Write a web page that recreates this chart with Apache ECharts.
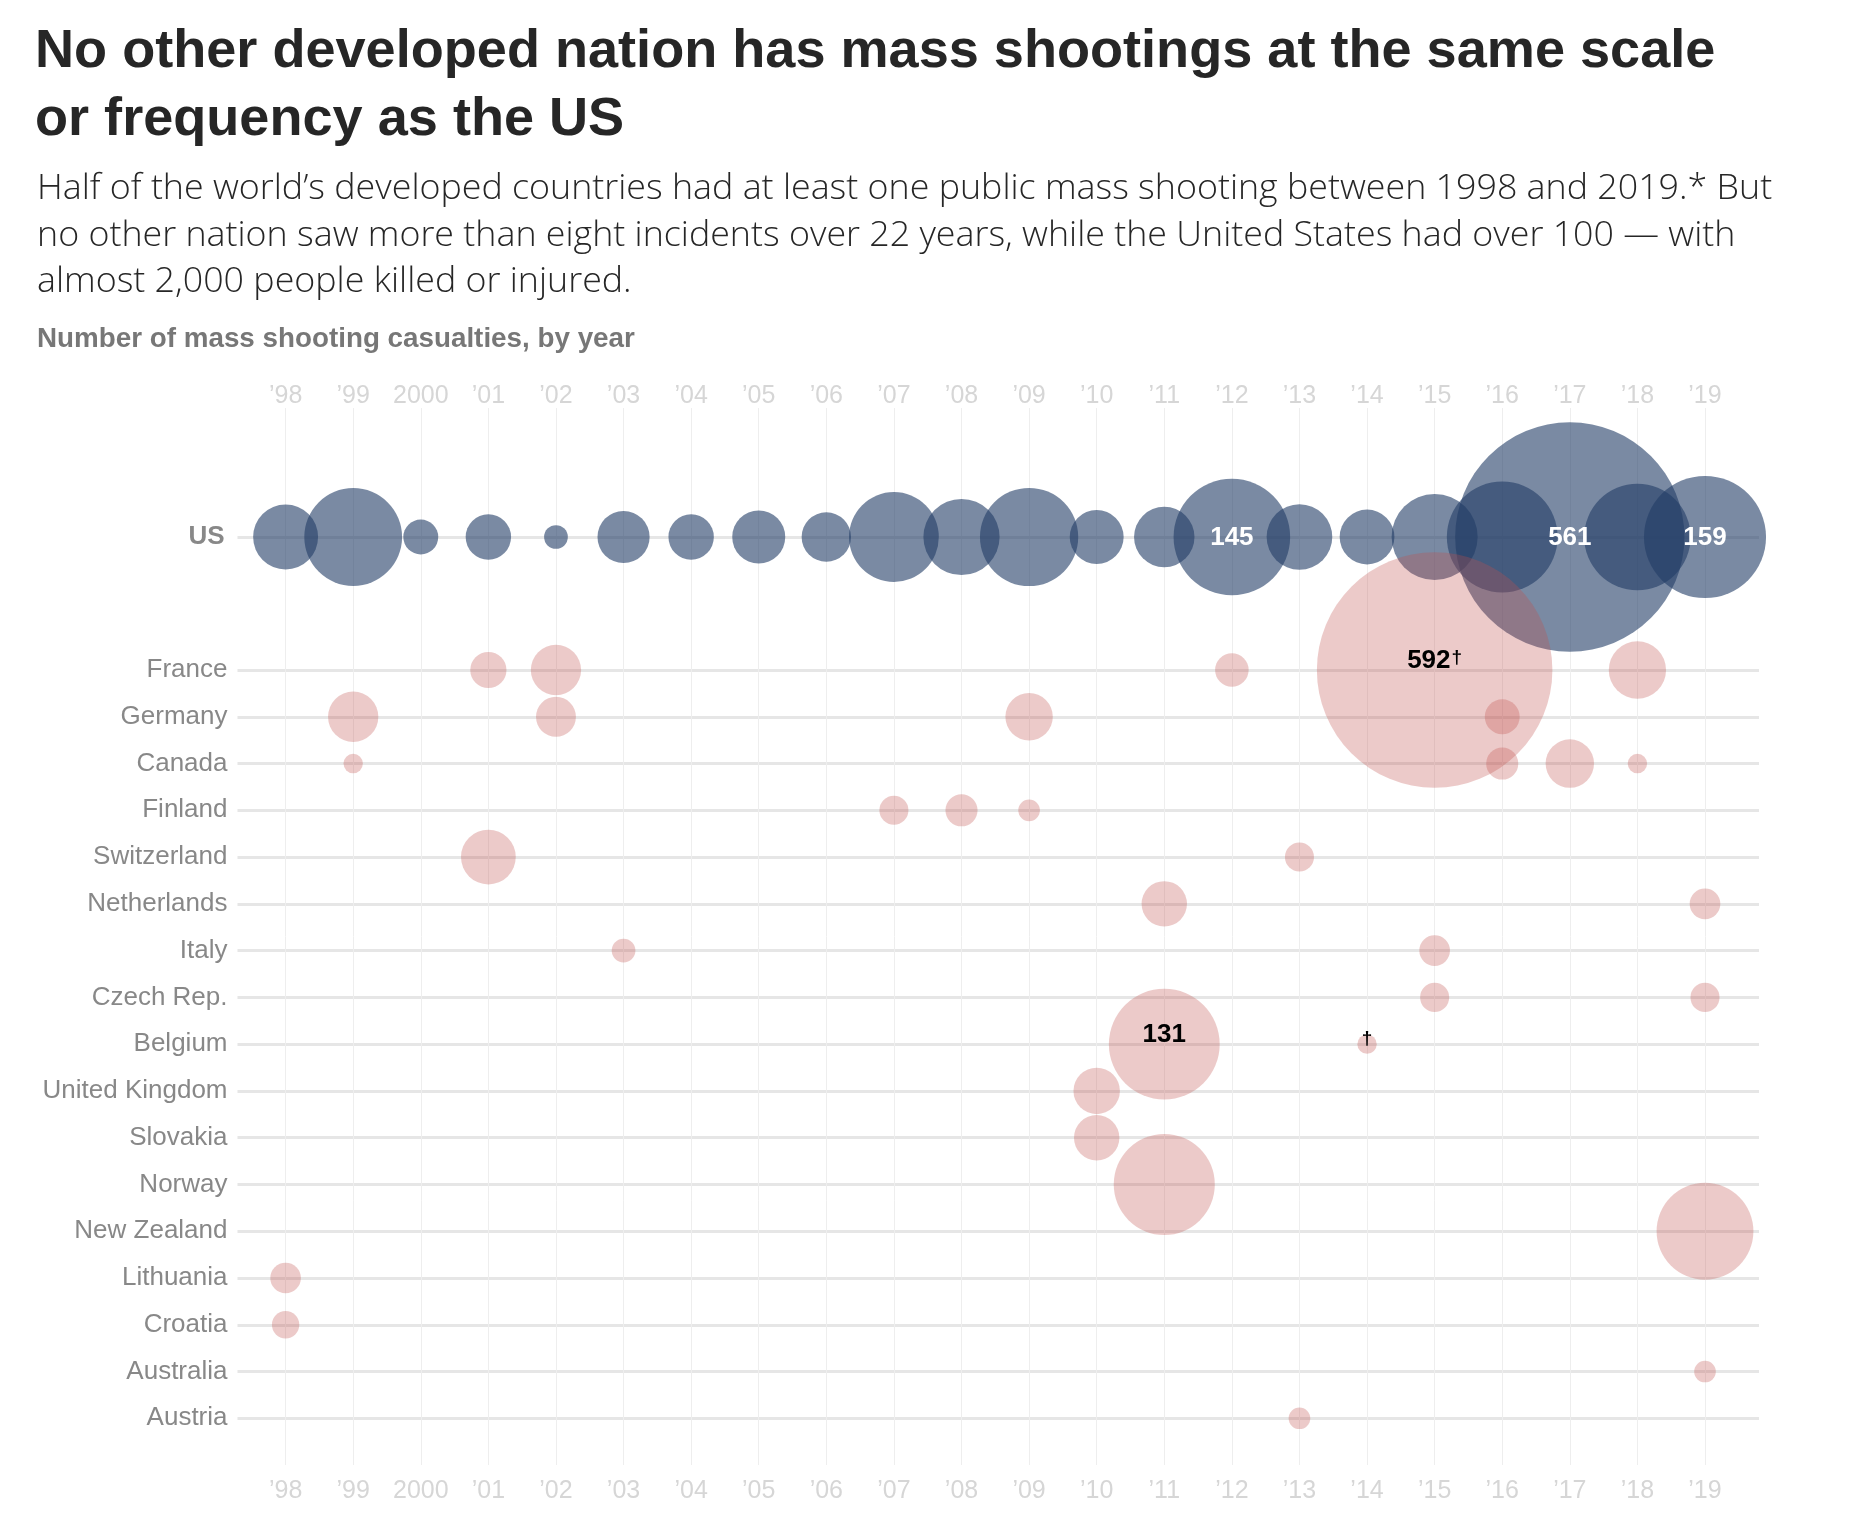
<!DOCTYPE html>
<html>
<head>
<meta charset="utf-8">
<script src="https://cdn.jsdelivr.net/npm/echarts@6/dist/echarts.min.js"></script>
<style>
html,body{margin:0;padding:0;background:#fff}
#chart{width:1862px;height:1526px}
</style>
</head>
<body>
<div id="chart"></div>
<script>
// ---------- DATA ----------
const years = [1998,1999,2000,2001,2002,2003,2004,2005,2006,2007,2008,2009,2010,2011,2012,2013,2014,2015,2016,2017,2018,2019];
const yearTickLabels = ['\u201998','\u201999','2000','\u201901','\u201902','\u201903','\u201904','\u201905','\u201906','\u201907','\u201908','\u201909','\u201910','\u201911','\u201912','\u201913','\u201914','\u201915','\u201916','\u201917','\u201918','\u201919'];
const usCasualties = [45,102,13,22,6,29,22,30,26,86,62,103,31,39,145,46,32,79,131,561,121,159];
const countries = ['France','Germany','Canada','Finland','Switzerland','Netherlands','Italy','Czech Rep.','Belgium','United Kingdom','Slovakia','Norway','New Zealand','Lithuania','Croatia','Australia','Austria'];
const franceCasualties = [[2001,14],[2002,27],[2012,12],[2015,592],[2018,35]];
const germanyCasualties = [[1999,27],[2002,17],[2009,24],[2016,13]];
const canadaCasualties = [[1999,4],[2016,11],[2017,25],[2018,4]];
const finlandCasualties = [[2007,9],[2008,11],[2009,5]];
const switzerlandCasualties = [[2001,32],[2013,9]];
const netherlandsCasualties = [[2011,22],[2019,10]];
const italyCasualties = [[2003,6],[2015,10]];
const czechCasualties = [[2015,9],[2019,9]];
const belgiumCasualties = [[2011,131],[2014,4]];
const ukCasualties = [[2010,23]];
const slovakiaCasualties = [[2010,22]];
const norwayCasualties = [[2011,109]];
const newZealandCasualties = [[2019,100]];
const lithuaniaCasualties = [[1998,10]];
const croatiaCasualties = [[1998,8]];
const australiaCasualties = [[2019,5]];
const austriaCasualties = [[2013,5]];
const countryCasualties = [franceCasualties,germanyCasualties,canadaCasualties,finlandCasualties,switzerlandCasualties,netherlandsCasualties,italyCasualties,czechCasualties,belgiumCasualties,ukCasualties,slovakiaCasualties,norwayCasualties,newZealandCasualties,lithuaniaCasualties,croatiaCasualties,australiaCasualties,austriaCasualties];
const valueLabels = [['US',2012],['US',2017],['US',2019],['France',2015],['Belgium',2011]];
const daggerNotes = [['France',2015],['Belgium',2014]];

const titleText = 'No other developed nation has mass shootings at the same scale\nor frequency as the US';
const subtitleText = 'Half of the world\u2019s developed countries had at least one public mass shooting between 1998 and 2019.* But\nno other nation saw more than eight incidents over 22 years, while the United States had over 100 \u2014 with\nalmost 2,000 people killed or injured.';
const captionText = 'Number of mass shooting casualties, by year';

// ---------- LAYOUT ----------
const FONT = '"Liberation Sans", Arial, Helvetica, sans-serif';
const SUB_FONT = '"Open Sans", "Liberation Sans", Arial, sans-serif';
const X0 = 285.6, X1 = 1705;            // pixel x of first / last year
const STEP = (X1 - X0) / (years.length - 1);
const ROW_LEFT = 237.5, ROW_RIGHT = 1759;
const xMinRow = years[0] - (X0 - ROW_LEFT) / STEP;
const xMaxRow = years[years.length - 1] + (ROW_RIGHT - X1) / STEP;
const K = 9.68;                          // diameter per sqrt(casualty)
const sizeOf = v => K * Math.sqrt(v);

function hasPair(list, c, y) { return list.some(p => p[0] === c && p[1] === y); }
function labelFor(c, y, v, color, dy) {
  const showVal = hasPair(valueLabels, c, y);
  const dag = hasPair(daggerNotes, c, y);
  if (!showVal && !dag) return null;
  if (!showVal) {
    return {show: true, position: 'inside', offset: [0, -5], formatter: '\u2020',
      fontFamily: FONT, fontSize: 19, fontWeight: 'bold', color: color};
  }
  let fmt = '{v|' + v + '}';
  if (dag) fmt += '{d|\u2020}';
  return {
    show: true, position: 'inside', offset: [0, dy],
    formatter: fmt,
    rich: {
      v: {fontFamily: FONT, fontSize: 26, fontWeight: 'bold', color: color},
      d: {fontFamily: FONT, fontSize: 19, fontWeight: 'bold', color: color, verticalAlign: 'top', padding: [0,0,5,1]}
    }
  };
}

const usData = years.map((y, i) => {
  const item = {value: [y, 'US', usCasualties[i]]};
  const lb = labelFor('US', y, usCasualties[i], '#ffffff', 1);
  if (lb) item.label = lb;
  return item;
});
const otherData = [];
countries.forEach((c, ci) => {
  countryCasualties[ci].forEach(([y, v]) => {
    const item = {value: [y, c, v]};
    const lb = labelFor(c, y, v, '#000000', -9);
    if (lb) item.label = lb;
    otherData.push(item);
  });
});

const chart = echarts.init(document.getElementById('chart'), null, {renderer: 'canvas'});
const tickAxisCommon = {
  type: 'value', gridIndex: 0, min: years[0], max: years[years.length - 1], interval: 1,
  axisLine: {show: false}, axisTick: {show: false},
  axisLabel: {
    fontFamily: FONT, fontSize: 25, color: '#d6d6d6',
    formatter: v => { const i = years.indexOf(v); return i >= 0 ? yearTickLabels[i] : ''; }
  }
};
chart.setOption({
  animation: false,
  backgroundColor: '#ffffff',
  title: [
    {text: titleText, left: 35, top: 18, padding: 0,
     textStyle: {fontFamily: FONT, fontSize: 54.1, fontWeight: 'bold', color: '#262626', lineHeight: 68}},
    {text: subtitleText, left: 37, top: 166, padding: 0,
     textStyle: {fontFamily: SUB_FONT, fontSize: 35.8, fontWeight: 300, color: '#262626', lineHeight: 46.5}},
    {text: captionText, left: 37, top: 324, padding: 0,
     textStyle: {fontFamily: FONT, fontSize: 27.8, fontWeight: 'bold', color: '#777777', lineHeight: 30}}
  ],
  grid: [
    {left: X0, width: X1 - X0, top: 408, height: 1057},
    {left: ROW_LEFT, width: ROW_RIGHT - ROW_LEFT, top: 497, height: 80},
    {left: ROW_LEFT, width: ROW_RIGHT - ROW_LEFT, top: 670, height: 748.3}
  ],
  xAxis: [
    Object.assign({}, tickAxisCommon, {position: 'top', axisLabel: Object.assign({}, tickAxisCommon.axisLabel, {margin: -1}),
      splitLine: {show: true, lineStyle: {color: '#eeeeee', width: 1}}}),
    Object.assign({}, tickAxisCommon, {position: 'bottom', axisLabel: Object.assign({}, tickAxisCommon.axisLabel, {margin: 14}),
      splitLine: {show: false}}),
    {type: 'value', gridIndex: 1, min: xMinRow, max: xMaxRow, show: false},
    {type: 'value', gridIndex: 2, min: xMinRow, max: xMaxRow, show: false}
  ],
  yAxis: [
    {type: 'value', gridIndex: 0, min: 0, max: 1, show: false},
    {type: 'category', gridIndex: 1, data: ['US'], boundaryGap: true,
     axisLine: {show: false}, axisTick: {show: false}, splitLine: {show: false},
     axisLabel: {fontFamily: FONT, fontSize: 26, fontWeight: 'bold', color: '#888888', margin: 13}},
    {type: 'category', gridIndex: 2, data: countries, inverse: true, boundaryGap: false,
     axisLine: {show: false}, axisTick: {show: false},
     splitLine: {show: true, lineStyle: {color: '#e6e6e6', width: 3}},
     axisLabel: {fontFamily: FONT, fontSize: 26, color: '#888888', margin: 10}}
  ],
  series: [
    {
      type: 'scatter', xAxisIndex: 2, yAxisIndex: 1, data: [], z: 1, silent: true,
      markLine: {silent: true, symbol: 'none', z: 1, label: {show: false},
        lineStyle: {color: '#e6e6e6', width: 3, type: 'solid'},
        data: [{yAxis: 'US'}]}
    },
    {
      name: 'US', type: 'scatter', xAxisIndex: 2, yAxisIndex: 1, z: 2, silent: true,
      data: usData,
      symbolSize: d => sizeOf(d[2]),
      itemStyle: {color: 'rgba(33,60,101,0.6)', opacity: 1},
      label: {show: false}
    },
    {
      name: 'Other countries', type: 'scatter', xAxisIndex: 3, yAxisIndex: 2, z: 3, silent: true,
      data: otherData,
      symbolSize: d => sizeOf(d[2]),
      itemStyle: {color: 'rgba(192,80,77,0.3)', opacity: 1},
      label: {show: false}
    }
  ]
});
</script>
</body>
</html>
